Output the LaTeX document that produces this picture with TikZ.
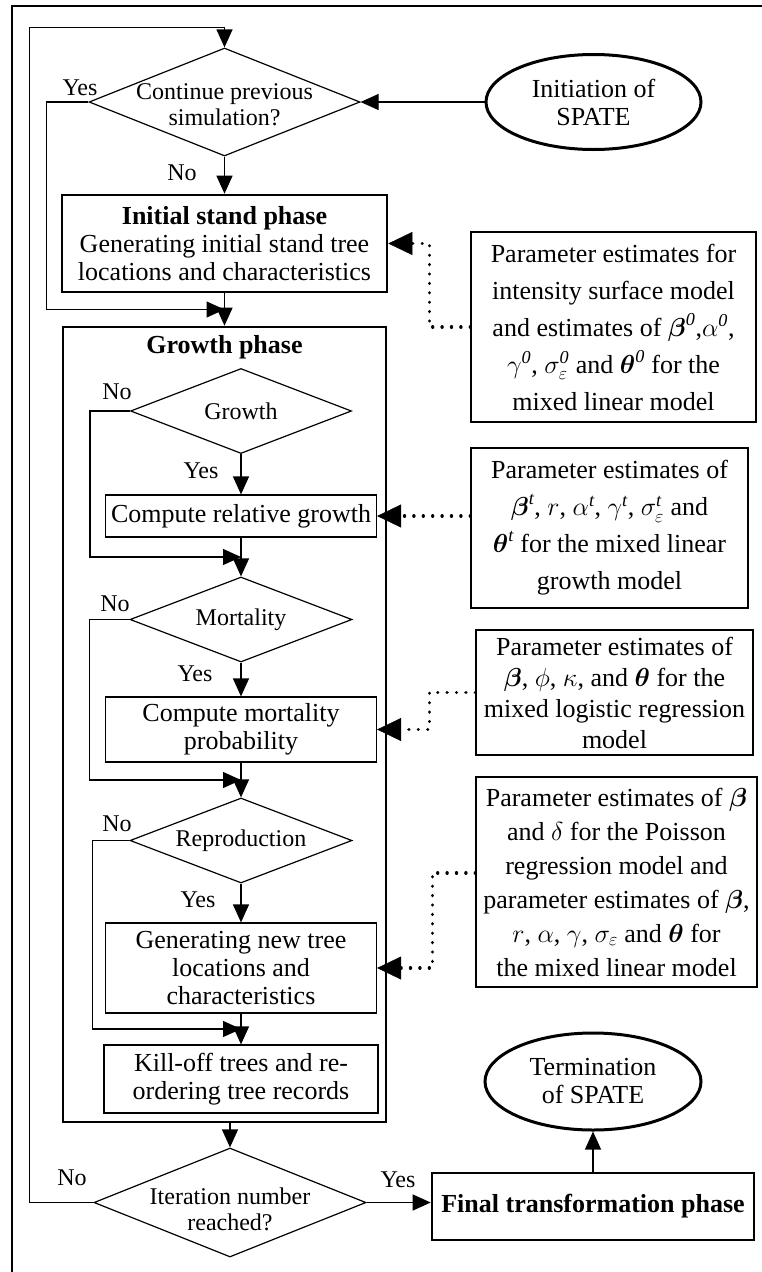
\RequirePackage{fix-cm}
\documentclass[tikz,border=0pt]{standalone}
\usepackage{amsmath}
\usepackage{fontspec}
\setmainfont{Liberation Serif}
\usetikzlibrary{arrows.meta,calc,shapes.geometric}
\newcommand{\txtA}{\fontsize{26}{28}\selectfont}
\newcommand{\txtB}{\fontsize{24}{26}\selectfont}
\tikzset{
 chart/.style={line join=miter},
 frame/.style={draw,line width=1.3pt},
 proc/.style={rectangle,draw,line width=1.2pt,inner sep=0pt,align=center,font=\txtA},
 phase/.style={proc,line width=2.6pt},
 decision/.style={diamond,draw,line width=1.2pt,inner sep=0pt},
 dtext/.style={align=center,font=\txtB,inner sep=0pt},
 terminal/.style={ellipse,draw,line width=3pt,inner sep=0pt,align=center,font=\txtA},
 param/.style={rectangle,draw,line width=1.2pt,inner sep=0pt,align=center,font=\fontsize{26}{34}\selectfont},
 yn/.style={font=\txtB,inner sep=0pt},
 flow/.style={draw,line width=1.2pt,-{Triangle[length=18pt,width=16pt]}},
 feed/.style={draw,line width=3.2pt,line cap=round,dash pattern=on 0.2pt off 9.2pt,
   -{Triangle[length=24pt,width=23pt,line width=0.5pt]}}
}

\begin{document}
\begin{tikzpicture}[chart,x=1pt,y=-1pt]
 \useasboundingbox (0,0) rectangle (761,1272);
 \draw[frame] (12,6) rectangle (775,1285);
 % start and first decision
 \node[terminal,minimum width=215pt,minimum height=95pt] (start) at (593.5,102) {Initiation of\\SPATE};
 \node[decision,minimum width=271pt,minimum height=108pt] (cont) at (224.5,102) {};
 \node[dtext] (contT) at (224.5,105) {Continue previous\\simulation?};
 \node[phase,minimum width=325pt,minimum height=97pt] (init) at (224.5,243.5)
   {\textbf{Initial stand phase}\\Generating initial stand tree\\locations and characteristics};
 % growth phase
 \node[phase,minimum width=323pt,minimum height=795pt] (gphase) at (224.5,724.5) {};
 \node[font=\txtA\bfseries,inner sep=0pt] (gtitle) at (224.5,347) {Growth phase};
 \node[decision,minimum width=221pt,minimum height=85pt] (gdec) at (241,411) {};
 \node[dtext] (gdecT) at (gdec) {Growth};
 \node[proc,minimum width=271pt,minimum height=42pt] (grel) at (241,516) {Compute relative growth};
 \node[decision,minimum width=222pt,minimum height=85pt] (mdec) at (241,619.5) {};
 \node[dtext] (mdecT) at (mdec) {Mortality};
 \node[proc,minimum width=271pt,minimum height=65pt] (mprob) at (241,729.5) {Compute mortality\\probability};
 \node[decision,minimum width=222pt,minimum height=85pt] (rdec) at (241,840.5) {};
 \node[dtext] (rdecT) at (rdec) {Reproduction};
 \node[proc,minimum width=271pt,minimum height=90pt] (newtree) at (241,968) {Generating new tree\\locations and\\characteristics};
 \node[proc,minimum width=274pt,minimum height=68pt] (kill) at (241,1079) {Kill-off trees and re-\\ordering tree records};
 % end of iteration
 \node[decision,minimum width=272pt,minimum height=109pt] (itdec) at (230,1202.5) {};
 \node[dtext] (itdecT) at (230,1209) {Iteration number\\reached?};
 \node[phase,minimum width=322pt,minimum height=67pt] (final) at (593,1206.5) {\textbf{Final transformation phase}};
 \node[terminal,minimum width=216pt,minimum height=97pt] (term) at (593,1081.5) {Termination\\of SPATE};
 % parameter boxes
 \node[param,minimum width=285pt,minimum height=190pt,font=\fontsize{26}{37}\selectfont] (p1) at (613.5,327)
   {Parameter estimates for\\intensity surface model\\and estimates of $\boldsymbol{\beta}^{\mathit{0}}$,$\alpha^{\mathit{0}}$,\\$\gamma^{\mathit{0}}$, $\sigma_{\varepsilon}^{\mathit{0}}$ and $\boldsymbol{\theta}^{\mathit{0}}$ for the\\mixed linear model};
 \node[param,minimum width=277pt,minimum height=160pt,font=\fontsize{26}{37}\selectfont] (p2) at (609.5,528)
   {Parameter estimates of\\$\boldsymbol{\beta}^{\mathit{t}}$, $r$, $\alpha^{\mathit{t}}$, $\gamma^{\mathit{t}}$, $\sigma_{\varepsilon}^{\mathit{t}}$ and\\$\boldsymbol{\theta}^{\mathit{t}}$ for the mixed linear\\growth model};
 \node[param,minimum width=277pt,minimum height=125pt,font=\fontsize{26}{31}\selectfont] (p3) at (614.5,692.5)
   {Parameter estimates of\\$\boldsymbol{\beta}$, $\phi$, $\kappa$, and $\boldsymbol{\theta}$ for the\\mixed logistic regression\\model};
 \node[param,minimum width=281pt,minimum height=210pt] (p4) at (616.5,882)
   {Parameter estimates of $\boldsymbol{\beta}$\\and $\delta$ for the Poisson\\regression model and\\parameter estimates of $\boldsymbol{\beta}$,\\$r$, $\alpha$, $\gamma$, $\sigma_{\varepsilon}$ and $\boldsymbol{\theta}$ for\\the mixed linear model};
 % yes / no
 \node[yn] (yesC) at (80,88) {Yes};
 \node[yn] (noC) at (182,173) {No};
 \node[yn] (noG) at (117,392) {No};
 \node[yn] (yesG) at (201,471) {Yes};
 \node[yn] (noM) at (115,604) {No};
 \node[yn] (yesM) at (195,674) {Yes};
 \node[yn] (noR) at (117,824) {No};
 \node[yn] (yesR) at (198,900) {Yes};
 \node[yn] (noI) at (72,1178) {No};
 \node[yn] (yesI) at (398,1180) {Yes};
 % joins
 \coordinate (j1) at ($(init.south)!.5!(gphase.north)$);
 \coordinate (j2) at ($(grel.south)!.5!(mdec.north)$);
 \coordinate (j3) at ($(mprob.south)!.5!(rdec.north)$);
 \coordinate (j4) at ($(newtree.south)!.5!(kill.north)$);
 % flow
 \draw[flow] (start) -- (cont);
 \draw[flow] (cont) -- (init);
 \draw[flow] (cont.west) -- ++(-42,0) |- (j1);
 \draw[flow] (init) -- (gphase.north);
 \draw[flow] (gdec) -- (grel);
 \draw[flow] (gdec.west) -- ++(-40,0) |- (j2);
 \draw[flow] (grel) -- (mdec);
 \draw[flow] (mdec) -- (mprob);
 \draw[flow] (mdec.west) -- ++(-40,0) |- (j3);
 \draw[flow] (mprob) -- (rdec);
 \draw[flow] (rdec) -- (newtree);
 \draw[flow] (rdec.west) -- ++(-37,0) |- (j4);
 \draw[flow] (newtree) -- (kill);
 \draw[flow] (gphase.south -| itdec.north) -- (itdec.north);
 \draw[flow] (itdec.west) -- ++(-64,0) |- ($(cont.north)+(0,-20)$) -- (cont.north);
 \draw[flow] (itdec.east) -- (itdec.east -| final.west);
 \draw[flow] (final) -- (term);
 % estimates
 \draw[feed] (p1.west) -| ($(init.east)+(41,0)$) -- (init.east);
 \draw[feed] (p2.west |- grel.east) -- (grel.east);
 \draw[feed] (p3.west) -| ($(mprob.east)+(52,0)$) -- (mprob.east);
 \draw[feed] ($(p4.west)+(0,-9)$) -| ($(newtree.east)+(55,0)$) -- (newtree.east);
\end{tikzpicture}
\end{document}
